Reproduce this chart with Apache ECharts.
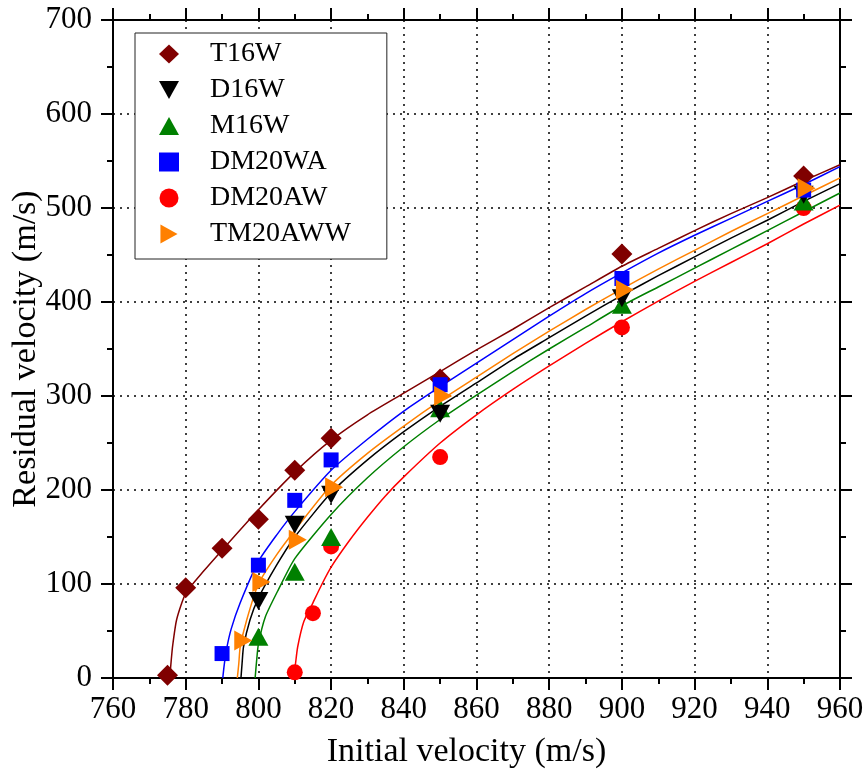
<!DOCTYPE html>
<html>
<head>
<meta charset="utf-8">
<script src="https://cdn.jsdelivr.net/npm/echarts@6/dist/echarts.min.js"></script>
<style>
  html, body { margin: 0; padding: 0; background: #fff; }
  #chart { width: 864px; height: 778px; }
</style>
</head>
<body>
<div id="chart"></div>
<script>
// measured points (initial velocity, residual velocity)
let T16W_x = [775, 780, 790, 800, 810, 820, 850, 900, 950];
let T16W_y = [3, 96, 138, 169, 221, 255, 318, 451, 534];
let D16W_x = [800, 810, 820, 850, 900, 950];
let D16W_y = [82, 163, 195, 281, 404, 514];
let M16W_x = [800, 810, 820, 850, 900, 950];
let M16W_y = [44, 113, 150, 287, 397, 507];
let DM20WA_x = [790, 800, 810, 820, 850, 900, 950];
let DM20WA_y = [26, 120, 189, 232, 312, 425, 519];
let DM20AW_x = [810, 815, 820, 850, 900, 950];
let DM20AW_y = [6, 69, 140, 235, 373, 500];
let TM20AWW_x = [795, 800, 810, 820, 850, 900, 950];
let TM20AWW_y = [40, 102, 147, 203, 300, 413, 521];

// fitted curves
let T16W_fitX = [775.6, 776.0, 776.4, 777.5, 780, 785, 790, 800, 810, 820, 830, 840, 850, 860, 870, 880, 890, 900, 910, 920, 930, 940, 950, 960];
let T16W_fitY = [0, 18, 34, 62, 90, 114, 136, 179, 219, 253, 280, 303, 326, 349, 371, 394, 416, 438, 457, 476, 494, 511, 529, 546];
let D16W_fitX = [795.2, 795.5, 795.9, 797.7, 800, 805, 810, 820, 830, 840, 850, 860, 870, 880, 890, 900, 910, 920, 930, 940, 950, 960];
let D16W_fitY = [0, 15, 33, 62, 85, 120, 150, 197, 232, 262, 289, 314, 339, 362, 385, 407, 428, 448, 468, 487, 507, 526];
let M16W_fitX = [799.1, 799.5, 800, 801.9, 805.5, 810, 820, 830, 840, 850, 860, 870, 880, 890, 900, 910, 920, 930, 940, 950, 960];
let M16W_fitY = [0, 18, 36, 65, 94, 127, 174, 213, 246, 275, 301, 326, 350, 373, 396, 416, 436, 456, 476, 496, 516];
let DM20WA_fitX = [790.2, 790.6, 791.2, 792.5, 795, 800, 805, 810, 820, 830, 840, 850, 860, 870, 880, 890, 900, 910, 920, 930, 940, 950, 960];
let DM20WA_fitY = [0, 14, 30, 52, 80, 124, 152, 177, 221, 254, 284, 310, 335, 360, 385, 409, 431, 452, 471, 489, 507, 525, 544];
let DM20AW_fitX = [809.7, 810.2, 810.8, 812.5, 815, 817.5, 820, 825, 830, 835, 840, 850, 860, 870, 880, 890, 900, 910, 920, 930, 940, 950, 960];
let DM20AW_fitY = [0, 15, 33, 60, 80, 100, 118, 146, 171, 194, 214, 250, 280, 307, 332, 356, 379, 401, 422, 442, 462, 483, 503];
let TM20AWW_fitX = [794.2, 794.6, 795, 796.8, 800, 805, 810, 820, 830, 840, 850, 860, 870, 880, 890, 900, 910, 920, 930, 940, 950, 960];
let TM20AWW_fitY = [0, 15, 33, 62, 100, 131, 157, 205, 239, 268, 295, 320, 345, 369, 392, 414, 435, 455, 475, 494, 513, 532];

let xTicks = [760, 960, 20];
let yTicks = [0, 700, 100];

let font = '"Liberation Serif", "Times New Roman", serif';
let zip = (xs, ys) => xs.map((x, i) => [x, ys[i]]);

let downTri = 'path://M0,0 L10,0 L5,9 Z';
let upTri = 'path://M5,0 L10,9 L0,9 Z';
let rightTri = 'path://M0,0 L9,5 L0,10 Z';

let sets = [
    {name: 'T16W', x: T16W_x, y: T16W_y, fx: T16W_fitX, fy: T16W_fitY, color: '#800000', symbol: 'diamond', size: [21, 21], z: 3},
    {name: 'D16W', x: D16W_x, y: D16W_y, fx: D16W_fitX, fy: D16W_fitY, color: '#000000', symbol: downTri, size: [20, 18], z: 6},
    {name: 'M16W', x: M16W_x, y: M16W_y, fx: M16W_fitX, fy: M16W_fitY, color: '#008000', symbol: upTri, size: [20, 18], z: 5},
    {name: 'DM20WA', x: DM20WA_x, y: DM20WA_y, fx: DM20WA_fitX, fy: DM20WA_fitY, color: '#0000ff', symbol: 'rect', size: [15, 15], z: 7},
    {name: 'DM20AW', x: DM20AW_x, y: DM20AW_y, fx: DM20AW_fitX, fy: DM20AW_fitY, color: '#ff0000', symbol: 'circle', size: [16, 16], z: 4},
    {name: 'TM20AWW', x: TM20AWW_x, y: TM20AWW_y, fx: TM20AWW_fitX, fy: TM20AWW_fitY, color: '#ff8000', symbol: rightTri, size: [18, 20], z: 8}
];

let series = [];
sets.forEach(s => {
    series.push({
        name: s.name + ' fit',
        type: 'line',
        data: zip(s.fx, s.fy),
        showSymbol: false,
        smooth: 0.2,
        lineStyle: {color: s.color, width: 1.5},
        z: 2,
        silent: true
    });
});
sets.forEach(s => {
    series.push({
        name: s.name,
        type: 'scatter',
        data: zip(s.x, s.y),
        symbol: s.symbol,
        symbolSize: s.size,
        symbolOffset: s.symbol === rightTri ? [3, 0] : [0, 0],
        itemStyle: {color: s.color, opacity: 1},
        z: s.z
    });
});

let axisLine = {show: true, onZero: false, lineStyle: {color: '#000', width: 2}};
let splitLine = {show: true, lineStyle: {color: '#000', width: 1.5, type: [2, 5]}};
let tick = {show: true, inside: false, length: 12, lineStyle: {color: '#000', width: 2}};
let minor = {show: true, splitNumber: 2, length: 6, lineStyle: {color: '#000', width: 2}};

let option = {
    backgroundColor: '#fff',
    animation: false,
    grid: {left: 113, right: 24, top: 20, bottom: 100, outerBoundsMode: 'none', containLabel: false},
    legend: {
        orient: 'vertical',
        left: 135,
        top: 33,
        data: sets.map(s => s.name),
        itemWidth: 20,
        itemHeight: 19,
        itemGap: 6,
        padding: [6, 36, 10, 24],
        borderColor: '#222',
        borderWidth: 1,
        backgroundColor: '#fff',
        textStyle: {fontFamily: font, fontSize: 28, color: '#000', lineHeight: 30, padding: [0, 0, 0, 26]}
    },
    xAxis: [{
        type: 'value', min: xTicks[0], max: xTicks[1], interval: xTicks[2],
        position: 'bottom',
        name: 'Initial velocity (m/s)', nameLocation: 'middle', nameGap: 57, nameMoveOverlap: false,
        nameTextStyle: {fontFamily: font, fontSize: 34, color: '#000', padding: [0, 20, 0, 0]},
        axisLine: axisLine, axisTick: tick, minorTick: minor,
        axisLabel: {fontFamily: font, fontSize: 31, color: '#000', margin: 16},
        splitLine: splitLine
    }, {
        type: 'value', min: xTicks[0], max: xTicks[1], interval: xTicks[2],
        position: 'top',
        axisLine: axisLine, axisTick: tick, minorTick: minor,
        axisLabel: {show: false},
        splitLine: {show: false}
    }],
    yAxis: [{
        type: 'value', min: yTicks[0], max: yTicks[1], interval: yTicks[2],
        position: 'left',
        name: 'Residual velocity (m/s)', nameLocation: 'middle', nameGap: 70, nameMoveOverlap: false,
        nameTextStyle: {fontFamily: font, fontSize: 34, color: '#000'},
        axisLine: axisLine, axisTick: tick, minorTick: minor,
        axisLabel: {fontFamily: font, fontSize: 31, color: '#000', margin: 21},
        splitLine: splitLine
    }, {
        type: 'value', min: yTicks[0], max: yTicks[1], interval: yTicks[2],
        position: 'right',
        axisLine: axisLine, axisTick: tick, minorTick: minor,
        axisLabel: {show: false},
        splitLine: {show: false}
    }],
    series: series
};

let myChart = echarts.init(document.getElementById('chart'));
myChart.setOption(option);
</script>
</body>
</html>
